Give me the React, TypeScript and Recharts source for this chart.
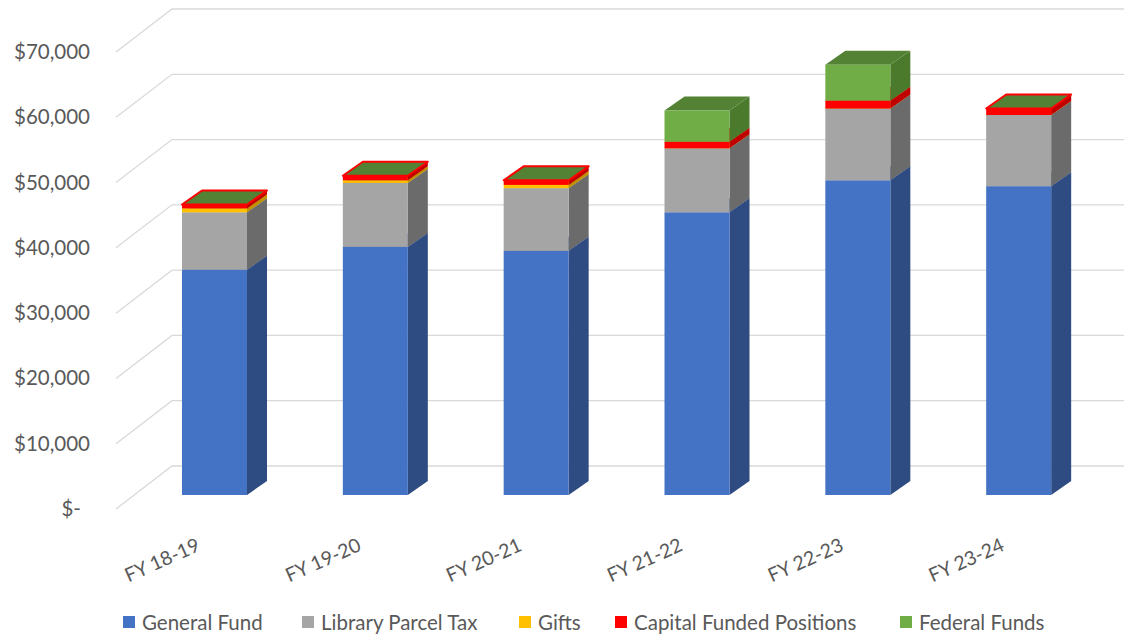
import { Bar, BarChart, CartesianGrid, XAxis, YAxis } from 'recharts'

const years = ['FY 18-19', 'FY 19-20', 'FY 20-21', 'FY 21-22', 'FY 22-23', 'FY 23-24']
const generalFund = [34500, 38000, 37400, 43300, 48200, 47300]
const parcelTax = [8800, 9800, 9600, 9800, 11000, 10900]
const gifts = [600, 400, 500, 0, 0, 0]
const capitalPositions = [600, 700, 700, 1000, 1200, 1000]
const federalFunds = [0, 0, 0, 4800, 5500, 0]
const yTicks = [0, 10000, 20000, 30000, 40000, 50000, 60000, 70000]

const seriesNames = ['General Fund', 'Library Parcel Tax', 'Gifts', 'Capital Funded Positions', 'Federal Funds']
const seriesColors = ['#4472C4', '#A5A5A5', '#FFC000', '#FF0000', '#70AD47']

const rows = years.map((year, i) => ({
  year,
  general: generalFund[i],
  parcel: parcelTax[i],
  gifts: gifts[i],
  capital: capitalPositions[i],
  federal: federalFunds[i],
}))

const FONT = 'Lato, "Open Sans", sans-serif'
const TEXT = '#595959'
// oblique depth offset of the box
const DX = 20
const DY = -14
// where each legend entry starts (px from left)
const legendLeft = [123, 302, 519, 615, 900]

function box(front: string, side: string, top: string, edge?: string) {
  return (props: any) => {
    const { x, y, width: w, height: h } = props
    if (x == null || w == null) return <g />
    const flat = !h || h < 0.5
    return (
      <g>
        <path d={`M${x + w},${y + h} L${x + w + DX},${y + h + DY} L${x + w + DX},${y + DY} L${x + w},${y} Z`} fill={side} />
        <path
          d={`M${x},${y} L${x + DX},${y + DY} L${x + w + DX},${y + DY} L${x + w},${y} Z`}
          fill={top}
          stroke={flat && edge ? edge : 'none'}
          strokeWidth={flat && edge ? 2 : 0}
          strokeLinejoin="round"
        />
        {!flat && <rect x={x} y={y} width={w} height={h} fill={front} />}
      </g>
    )
  }
}

const YTick = ({ y, payload }: any) => {
  const v = payload.value as number
  const label = v === 0 ? '$-' : '$' + v.toLocaleString('en-US')
  return (
    <text x={v === 0 ? 81 : 90} y={y + 14} dy={7} textAnchor="end" fill={TEXT} fontSize={20.5} fontFamily={FONT}>
      {label}
    </text>
  )
}

const XTick = ({ x, y, payload }: any) => (
  <text
    transform={`translate(${x - 13},${y + 47}) rotate(-24)`}
    textAnchor="end"
    fill={TEXT}
    fontSize={19.5}
    fontFamily={FONT}
  >
    {payload.value}
  </text>
)

const GridLine = (p: any) => {
  const y = p.y1
  return (
    <path
      key={p.key}
      d={`M116,${y + 14} L172,${y - 29} L1124,${y - 29}`}
      stroke="#D9D9D9"
      strokeWidth={1.3}
      fill="none"
    />
  )
}

export default function App() {
  return (
    <div style={{ position: 'absolute', left: 0, top: 0, width: 1124, height: 634, background: '#fff' }}>
      <BarChart width={1124} height={634} data={rows} margin={{ top: 38, right: 25, bottom: 0, left: 0 }} barSize={65}>
        <CartesianGrid vertical={false} horizontal={GridLine} />
        <XAxis dataKey="year" axisLine={false} tickLine={false} height={139} tick={XTick} interval={0} />
        <YAxis
          domain={[0, 70000]}
          ticks={yTicks}
          axisLine={false}
          tickLine={false}
          width={134}
          tick={YTick}
          interval={0}
        />
        <Bar dataKey="general" stackId="a" isAnimationActive={false} shape={box('#4472C4', '#2E4B82', '#3A62AA')} />
        <Bar dataKey="parcel" stackId="a" isAnimationActive={false} shape={box('#A5A5A5', '#6B6B6B', '#8C8C8C')} />
        <Bar dataKey="gifts" stackId="a" isAnimationActive={false} shape={box('#FFC000', '#C09000', '#E0A800')} />
        <Bar dataKey="capital" stackId="a" isAnimationActive={false} shape={box('#FF0000', '#C00000', '#FF0000')} />
        <Bar
          dataKey="federal"
          stackId="a"
          isAnimationActive={false}
          shape={box('#70AD47', '#4B7A2C', '#548235', '#FF0000')}
        />
      </BarChart>
      {seriesNames.map((name, i) => (
        <div
          key={name}
          style={{
            position: 'absolute',
            left: legendLeft[i],
            top: 609,
            display: 'flex',
            alignItems: 'center',
            gap: 7,
            fontFamily: FONT,
            fontSize: 20.5,
            color: TEXT,
            whiteSpace: 'nowrap',
            lineHeight: '26px',
          }}
        >
          <span style={{ width: 12, height: 12, background: seriesColors[i], display: 'inline-block' }} />
          <span>{name}</span>
        </div>
      ))}
    </div>
  )
}
